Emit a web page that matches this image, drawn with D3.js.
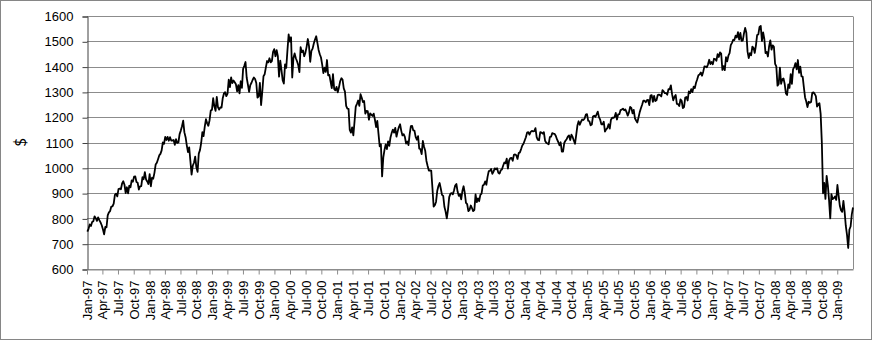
<!DOCTYPE html>
<html lang="en">
<head>
<meta charset="UTF-8">
<title>Weekly index level</title>
<script src="https://d3js.org/d3.v7.min.js"></script>
<style>
  body { margin: 0; background: #fff; }
  svg { display: block; font-family: Lato, "Liberation Sans", Arial, sans-serif; }
</style>
</head>
<body>
<svg id="chart" width="872" height="340"></svg>

<script>
    // weekly closes, one array per year, first value = Fri 3 Jan 1997
    const v1997 = [748, 759, 776, 770, 786, 789, 808, 801, 790, 804, 793, 784, 773, 757, 737, 766, 765, 812, 824, 829,
        847, 848, 858, 893, 898, 887, 916, 918, 915, 938, 947, 933, 900, 923, 899, 929, 923, 950, 945, 965,
        966, 944, 941, 914, 927, 928, 963, 955, 983, 954, 946, 936];
    const v1998 = [975, 927, 961, 957, 980, 1013, 1020, 1034, 1049, 1055, 1069, 1100, 1095, 1122, 1110, 1122, 1107,
        1121, 1108, 1108, 1110, 1091, 1113, 1098, 1100, 1133, 1147, 1164, 1186, 1140, 1121, 1089, 1062, 1081, 1027,
        973, 1009, 1020, 1044, 1002, 984, 1056, 1070, 1098, 1141, 1125, 1163, 1192, 1176, 1166, 1188, 1226];
    const v1999 = [1229, 1275, 1243, 1225, 1280, 1240, 1230, 1239, 1238, 1275, 1294, 1299, 1283, 1293, 1348, 1319,
        1357, 1335, 1345, 1338, 1330, 1302, 1327, 1294, 1342, 1316, 1391, 1403, 1418, 1356, 1329, 1300, 1327, 1336,
        1348, 1357, 1351, 1335, 1277, 1282, 1336, 1248, 1301, 1362, 1370, 1397, 1422, 1417, 1433, 1417, 1422, 1458, 1469];
    const v2000 = [1441, 1465, 1441, 1360, 1424, 1387, 1346, 1333, 1409, 1395, 1464, 1527, 1499, 1516, 1357, 1434,
        1452, 1433, 1421, 1406, 1378, 1477, 1457, 1464, 1441, 1455, 1478, 1509, 1481, 1419, 1462, 1471, 1491, 1507,
        1520, 1494, 1466, 1449, 1436, 1408, 1374, 1396, 1379, 1426, 1365, 1367, 1341, 1315, 1370, 1312, 1306, 1320];
    const v2001 = [1298, 1318, 1342, 1354, 1349, 1314, 1301, 1245, 1234, 1233, 1150, 1139, 1160, 1128, 1183, 1242,
        1253, 1266, 1245, 1291, 1277, 1260, 1264, 1214, 1225, 1224, 1190, 1215, 1210, 1205, 1214, 1190, 1161, 1185,
        1134, 1085, 1093, 966, 1041, 1071, 1092, 1074, 1104, 1087, 1120, 1138, 1151, 1139, 1158, 1123, 1144, 1161];
    const v2002 = [1172, 1146, 1128, 1133, 1122, 1096, 1104, 1090, 1132, 1165, 1166, 1148, 1147, 1122, 1111, 1125,
        1076, 1073, 1054, 1106, 1083, 1067, 1027, 1007, 989, 990, 989, 921, 847, 852, 865, 908, 928, 940, 917,
        893, 889, 846, 827, 800, 835, 884, 897, 900, 895, 910, 930, 936, 906, 889, 896, 875];
    const v2003 = [908, 927, 901, 861, 856, 829, 834, 851, 841, 829, 833, 895, 864, 879, 868, 893, 898, 930, 933,
        946, 933, 964, 987, 988, 995, 976, 985, 998, 994, 998, 980, 977, 990, 993, 1008, 1021, 1018, 1036, 997,
        1029, 1038, 1039, 1028, 1051, 1053, 1050, 1035, 1058, 1061, 1074, 1088, 1095];
    const v2004 = [1108, 1121, 1139, 1141, 1131, 1142, 1146, 1144, 1145, 1157, 1121, 1110, 1109, 1141, 1139, 1135,
        1141, 1107, 1099, 1096, 1093, 1121, 1123, 1137, 1135, 1134, 1126, 1112, 1102, 1089, 1101, 1064, 1064, 1098,
        1107, 1113, 1123, 1128, 1110, 1131, 1122, 1108, 1095, 1130, 1167, 1184, 1170, 1182, 1191, 1189, 1195, 1210, 1212];
    const v2005 = [1186, 1184, 1168, 1171, 1203, 1206, 1201, 1211, 1222, 1200, 1190, 1172, 1172, 1182, 1143, 1152,
        1157, 1172, 1155, 1190, 1198, 1197, 1201, 1217, 1191, 1211, 1212, 1228, 1230, 1234, 1227, 1231, 1220, 1206,
        1219, 1241, 1237, 1215, 1229, 1196, 1187, 1179, 1199, 1220, 1235, 1249, 1265, 1265, 1259, 1267, 1268, 1248];
    const v2006 = [1285, 1287, 1261, 1284, 1264, 1267, 1287, 1289, 1287, 1282, 1307, 1302, 1295, 1295, 1289, 1311,
        1310, 1326, 1291, 1267, 1280, 1288, 1253, 1252, 1244, 1270, 1265, 1236, 1240, 1278, 1280, 1266, 1302, 1295,
        1311, 1299, 1321, 1315, 1336, 1350, 1366, 1369, 1377, 1364, 1380, 1401, 1400, 1397, 1409, 1427, 1410, 1418];
    const v2007 = [1409, 1431, 1430, 1423, 1449, 1438, 1456, 1451, 1387, 1402, 1386, 1437, 1421, 1443, 1453, 1485,
        1494, 1506, 1505, 1522, 1515, 1536, 1507, 1533, 1502, 1503, 1531, 1553, 1534, 1459, 1434, 1453, 1445, 1479,
        1474, 1454, 1484, 1525, 1527, 1557, 1561, 1501, 1535, 1509, 1453, 1458, 1440, 1481, 1504, 1467, 1484, 1478];
    const v2008 = [1411, 1401, 1325, 1331, 1396, 1332, 1350, 1353, 1331, 1294, 1288, 1330, 1316, 1370, 1332, 1390,
        1398, 1414, 1389, 1426, 1375, 1400, 1361, 1360, 1318, 1278, 1262, 1240, 1261, 1257, 1260, 1296, 1298, 1292,
        1283, 1242, 1252, 1255, 1213, 1099, 899, 940, 877, 968, 931, 873, 800, 896, 876, 880, 887, 873];
    const v2009 = [932, 890, 850, 832, 826, 869, 827, 770, 735, 683, 756, 768, 816, 843];

    const yTicks = [600, 700, 800, 900, 1000, 1100, 1200, 1300, 1400, 1500, 1600];
    const axisStart = new Date(1997, 0, 1);
    const axisEnd = new Date(2009, 3, 3);
    const lastLabel = new Date(2009, 0, 1);
    const firstWeek = new Date(1997, 0, 3);

    const values = [].concat(v1997, v1998, v1999, v2000, v2001, v2002, v2003,
        v2004, v2005, v2006, v2007, v2008, v2009);
    const data = values.map(function (v, i) {
        return { date: d3.timeDay.offset(firstWeek, i * 7), value: v };
    });

    const width = 872;
    const height = 340;
    const plotLeft = 87, plotRight = 853, plotTop = 16, plotBottom = 269;
    const gridColor = "#8c8c8c";

    const svg = d3.select("#chart");

    // outer chart border
    svg.append("rect")
        .attr("x", 0.5).attr("y", 0.5)
        .attr("width", width - 1).attr("height", height - 1)
        .attr("fill", "#fff")
        .attr("stroke", "#868686");

    const x = d3.scaleTime()
        .domain([axisStart, axisEnd])
        .range([plotLeft, plotRight]);

    const y = d3.scaleLinear()
        .domain([600, 1600])
        .range([plotBottom, plotTop]);

    // horizontal gridlines
    svg.append("g")
        .selectAll("line")
        .data(yTicks).enter()
        .append("line")
        .attr("x1", plotLeft).attr("x2", plotRight)
        .attr("y1", function (d) { return Math.round(y(d)) + 0.5; })
        .attr("y2", function (d) { return Math.round(y(d)) + 0.5; })
        .attr("stroke", gridColor)
        .attr("stroke-width", 1);

    // right edge of plot area
    svg.append("line")
        .attr("x1", plotRight + 0.5).attr("x2", plotRight + 0.5)
        .attr("y1", Math.round(y(1600)) + 0.5).attr("y2", Math.round(y(600)) + 0.5)
        .attr("stroke", gridColor);

    // y axis
    const yAxis = svg.append("g")
        .attr("transform", "translate(" + (plotLeft + 0.5) + ",0.5)")
        .call(d3.axisLeft(y).tickValues(yTicks).tickSize(5).tickPadding(9).tickFormat(d3.format("d")));
    yAxis.select(".domain").attr("stroke", "#404040");
    yAxis.selectAll(".tick line").attr("stroke", "#404040");
    yAxis.selectAll("text")
        .attr("fill", "#000")
        .style("font-size", "13px");

    // x axis, a label every quarter up to Jan-09
    const quarters = d3.timeMonth.every(3).range(axisStart, d3.timeDay.offset(lastLabel, 1));
    const xAxis = svg.append("g")
        .attr("transform", "translate(0," + (Math.round(y(600)) + 0.5) + ")")
        .call(d3.axisBottom(x).tickValues(quarters).tickSize(5).tickSizeOuter(0).tickFormat(d3.timeFormat("%b-%y")));
    xAxis.select(".domain").attr("stroke", gridColor);
    xAxis.selectAll(".tick line").attr("stroke", gridColor);
    xAxis.selectAll("text")
        .attr("fill", "#000")
        .style("font-size", "13px")
        .attr("text-anchor", "end")
        .attr("transform", "rotate(-90)")
        .attr("x", -11)
        .attr("y", 0)
        .attr("dy", "0.35em");

    // axis title
    svg.append("text")
        .attr("transform", "translate(26," + ((plotTop + plotBottom) / 2) + ") rotate(-90)")
        .attr("text-anchor", "middle")
        .style("font-size", "15px")
        .text("$");

    // the series
    const line = d3.line()
        .x(function (d) { return x(d.date); })
        .y(function (d) { return y(d.value); });

    svg.append("path")
        .datum(data)
        .attr("fill", "none")
        .attr("stroke", "#000")
        .attr("stroke-width", 1.8)
        .attr("stroke-linejoin", "round")
        .attr("d", line);
</script>
</body>
</html>
